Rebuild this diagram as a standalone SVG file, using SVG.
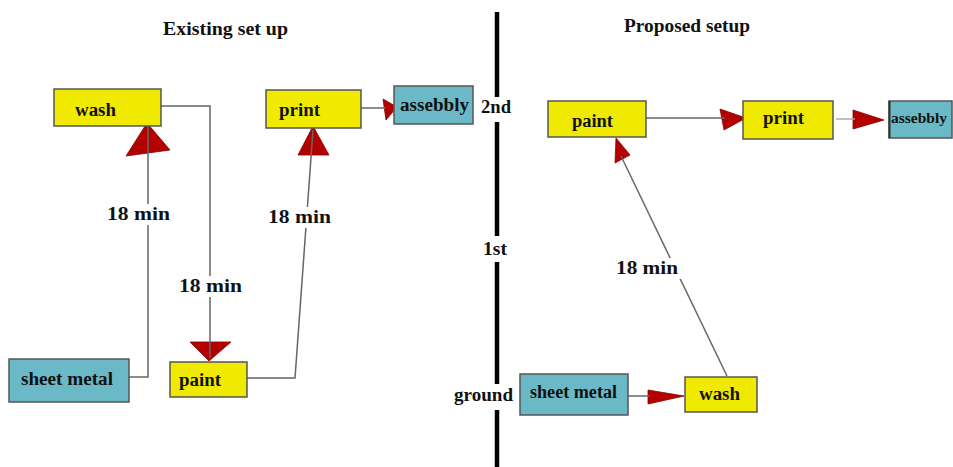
<svg xmlns="http://www.w3.org/2000/svg" width="953" height="467" viewBox="0 0 953 467">
<style>
text{font-family:"Liberation Serif","Times New Roman",serif;font-weight:bold;font-size:18px;fill:#111}
.y{fill:#f0ea00;stroke:#555;stroke-width:1.5}
.t{fill:#6bb9c7;stroke:#555;stroke-width:1.5}
.ln{fill:none;stroke:#666;stroke-width:1.5}
.ah{fill:#b30000;stroke:#8a0000;stroke-width:0.8}
.bg{fill:#fff}
.div{stroke:#000;stroke-width:4.5}
</style>
<rect width="953" height="467" fill="#fff"/>
<text x="163" y="35" textLength="125" lengthAdjust="spacingAndGlyphs">Existing set up</text>
<text x="624" y="32" textLength="126" lengthAdjust="spacingAndGlyphs">Proposed setup</text>
<g id="divider">
<line class="div" x1="497" y1="12" x2="497" y2="97"/>
<line class="div" x1="497" y1="122" x2="497" y2="236"/>
<line class="div" x1="497" y1="262" x2="497" y2="384"/>
<line class="div" x1="497" y1="410" x2="497" y2="467"/>
<text x="481" y="113" textLength="30" lengthAdjust="spacingAndGlyphs">2nd</text>
<text x="483" y="255" textLength="24" lengthAdjust="spacingAndGlyphs">1st</text>
<text x="454" y="401" textLength="59" lengthAdjust="spacingAndGlyphs">ground</text>
</g>
<g id="connectors">
<polygon class="ah" points="147,123 170,150 126,156"/>
<polygon class="ah" points="190,342 231,342 209,361"/>
<polygon class="ah" points="313,126 329,155 298,155"/>
<polygon class="ah" points="383,99 397,107 386,120"/>
<polygon class="ah" points="720,109 746,118 724,130"/>
<polygon class="ah" points="853,110 884,120 853,129"/>
<polygon class="ah" points="616,138 630,155 615,163"/>
<polygon class="ah" points="648,390 684,396 648,404"/>
<polyline class="ln" points="129,377 148,377 148,126"/>
<polyline class="ln" points="161,106 210,106 210,358"/>
<polyline class="ln" points="247,378 295,378 313,130"/>
<line class="ln" x1="361" y1="108" x2="386" y2="108"/>
<line class="ln" x1="646" y1="118" x2="725" y2="118"/>
<line x1="836" y1="119" x2="855" y2="119" stroke="#aaa" stroke-width="1.5"/>
<line class="ln" x1="727" y1="376" x2="621" y2="156"/>
<line class="ln" x1="628" y1="396" x2="650" y2="396"/>
<rect class="bg" x="105" y="204" width="67" height="21"/>
<text x="107" y="220" textLength="63" lengthAdjust="spacingAndGlyphs">18  min</text>
<rect class="bg" x="176" y="276" width="68" height="21"/>
<text x="179" y="292" textLength="63" lengthAdjust="spacingAndGlyphs">18  min</text>
<rect class="bg" x="266" y="207" width="67" height="21"/>
<text x="268" y="223" textLength="63" lengthAdjust="spacingAndGlyphs">18  min</text>
<rect class="bg" x="614" y="258" width="67" height="21"/>
<text x="616" y="274" textLength="62" lengthAdjust="spacingAndGlyphs">18  min</text>
</g>
<g id="wash-left"><rect class="y" x="54" y="89" width="107" height="37"/><text x="75" y="116" textLength="41" lengthAdjust="spacingAndGlyphs">wash</text></g>
<g id="print-left"><rect class="y" x="266" y="90" width="95" height="38"/><text x="279" y="116" textLength="41" lengthAdjust="spacingAndGlyphs">print</text></g>
<g id="assebbly-left"><rect class="t" x="394" y="86" width="79" height="38"/><text x="400" y="111" textLength="69" lengthAdjust="spacingAndGlyphs">assebbly</text></g>
<g id="sheetmetal-left"><rect class="t" x="9" y="359" width="120" height="43"/><text x="21" y="385" textLength="92" lengthAdjust="spacingAndGlyphs">sheet metal</text></g>
<g id="paint-left"><rect class="y" x="170" y="362" width="77" height="35"/><text x="179" y="386" textLength="42" lengthAdjust="spacingAndGlyphs">paint</text></g>
<g id="paint-right"><rect class="y" x="548" y="101" width="98" height="36"/><text x="572" y="127" textLength="41" lengthAdjust="spacingAndGlyphs">paint</text></g>
<g id="print-right"><rect class="y" x="743" y="101" width="90" height="38"/><text x="763" y="124" textLength="41" lengthAdjust="spacingAndGlyphs">print</text></g>
<g id="assebbly-right"><rect class="t" x="889" y="101" width="63" height="37"/><line x1="889.5" y1="101" x2="889.5" y2="138" stroke="#333" stroke-width="2"/><text x="891" y="123" style="font-size:15.5px">assebbly</text></g>
<g id="sheetmetal-right"><rect class="t" x="520" y="374" width="108" height="41"/><text x="530" y="398" textLength="87" lengthAdjust="spacingAndGlyphs">sheet metal</text></g>
<g id="wash-right"><rect class="y" x="685" y="377" width="72" height="35"/><text x="699" y="400" textLength="41" lengthAdjust="spacingAndGlyphs">wash</text></g>
</svg>
